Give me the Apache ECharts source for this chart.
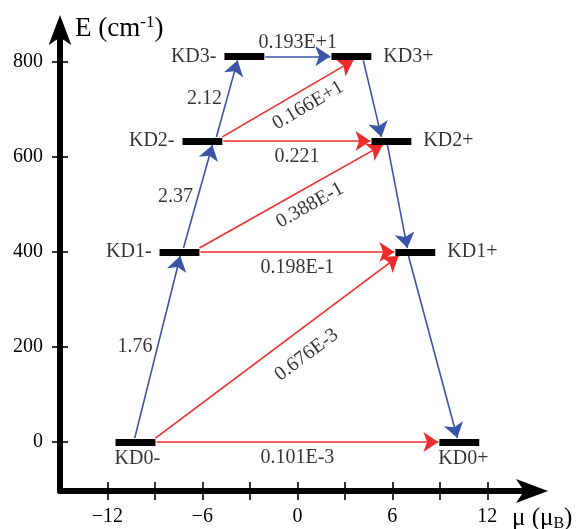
<!DOCTYPE html>
<html><head><meta charset="utf-8">
<script src="https://cdn.jsdelivr.net/npm/echarts@6/dist/echarts.min.js"></script>
<style>html,body{margin:0;padding:0;background:#fff}#c{width:577px;height:529px}</style>
</head><body><div id="c"></div>
<script>
// ---------------- data ----------------
const levelNames = ['KD0-', 'KD1-', 'KD2-', 'KD3-', 'KD3+', 'KD2+', 'KD1+', 'KD0+'];
const levelMu    = [-10.23, -7.45, -6.0, -3.35, 3.41, 5.94, 7.45, 10.23];
const levelE     = [0, 400, 634, 812, 812, 634, 400, 0];

const blueFrom   = ['KD0-', 'KD1-', 'KD2-', 'KD3-', 'KD3+', 'KD2+', 'KD1+'];
const blueTo     = ['KD1-', 'KD2-', 'KD3-', 'KD3+', 'KD2+', 'KD1+', 'KD0+'];
const blueValues = ['1.76', '2.37', '2.12', '0.193E+1', '', '', ''];

const redFrom    = ['KD0-', 'KD0-', 'KD1-', 'KD1-', 'KD2-', 'KD2-'];
const redTo      = ['KD0+', 'KD1+', 'KD1+', 'KD2+', 'KD2+', 'KD3+'];
const redValues  = ['0.101E-3', '0.676E-3', '0.198E-1', '0.388E-1', '0.221', '0.166E+1'];

const xTickValues  = [-12, -9, -6, -3, 0, 3, 6, 9, 12];
const xLabelValues = [-12, -6, 0, 6, 12];
const xLabelTexts  = ['\u221212', '\u22126', '0', '6', '12'];
const yTickValues  = [0, 200, 400, 600, 800];
const yLabelTexts  = ['0', '200', '400', '600', '800'];

// ---------------- layout / style ----------------
const FONT = "'Liberation Serif', serif";
const BLUE = '#3a55a8';
const RED = '#ee2a2a';
const BAR_HALF = 1.26;          // half width of level bar (axis units)
const EDGE_PX = 4;              // half thickness of level bar in px
const ARROW = [8, 15];
const blueFromFrac = [0.48, 0.6, 0.85, 1, 0.8, 0.4, 0.33];
const blueToFrac   = [0.52, 0.75, 0.33, 0, 0.25, 0.3, 0.45];
const redFromFrac  = [1, 1, 1, 1, 1, 1];
const redToFrac    = [0, 0.08, 0, 0.28, 0, 0.55];
const redLabelAlong = [0, 19, 0, 12, 0, 14];
const redLabelPerp  = [16, 24, 16, 17, 16, 16];
const levelLabelSide = ['below', 'left', 'left', 'left', 'right', 'right', 'right', 'below'];

const X_MIN = -15, X_MAX = 14.95, Y_MIN = -103, Y_MAX = 869.6;
const GRID = { left: 60, right: 43, top: 29, bottom: 38 };

const chart = echarts.init(document.getElementById('c'), null, { renderer: 'canvas' });

const tickStyle = { color: '#000', width: 1.6 };
const option = {
  animation: false,
  backgroundColor: '#fff',
  textStyle: { fontFamily: FONT },
  grid: [Object.assign({}, GRID), Object.assign({}, GRID)],
  xAxis: [{
    type: 'value', gridIndex: 0, min: X_MIN, max: X_MAX, position: 'bottom',
    axisLine: { show: true, onZero: false, symbol: ['none', 'arrow'], symbolSize: [18, 32],
      symbolOffset: [0, 14],
      lineStyle: { color: '#000', width: 6 } },
    axisTick: { show: true, length: 9, lineStyle: tickStyle, customValues: xTickValues },
    axisLabel: { show: true, customValues: xLabelValues, margin: 16, color: '#000',
      fontFamily: FONT, fontSize: 20,
      formatter: v => xLabelTexts[xLabelValues.indexOf(v)] },
    splitLine: { show: false }
  }, {
    type: 'value', gridIndex: 1, min: X_MIN, max: X_MAX, position: 'bottom',
    axisLine: { show: false, onZero: false },
    axisTick: { show: true, inside: true, length: 9, lineStyle: tickStyle, customValues: xTickValues },
    axisLabel: { show: false }, splitLine: { show: false }
  }],
  yAxis: [{
    type: 'value', gridIndex: 0, min: Y_MIN, max: Y_MAX, position: 'left',
    axisLine: { show: true, onZero: false, symbol: ['none', 'arrow'], symbolSize: [17, 30],
      symbolOffset: [0, 14],
      lineStyle: { color: '#000', width: 6 } },
    axisTick: { show: true, length: 8, lineStyle: tickStyle, customValues: yTickValues },
    axisLabel: { show: true, customValues: yTickValues, margin: 17, color: '#000',
      fontFamily: FONT, fontSize: 20,
      formatter: v => yLabelTexts[yTickValues.indexOf(v)] },
    splitLine: { show: false }
  }, {
    type: 'value', gridIndex: 1, min: Y_MIN, max: Y_MAX, position: 'left',
    axisLine: { show: false, onZero: false },
    axisTick: { show: true, inside: true, length: 8, lineStyle: tickStyle, customValues: yTickValues },
    axisLabel: { show: false }, splitLine: { show: false }
  }],
  graphic: [{
    type: 'text', x: 75, y: 29,
    style: {
      text: '{a|E (cm}{s|-1}{a|)}', verticalAlign: 'middle', align: 'left',
      rich: {
        a: { fontFamily: FONT, fontSize: 27, fill: '#000', color: '#000', lineHeight: 30 },
        s: { fontFamily: FONT, fontSize: 17, fill: '#000', color: '#000', verticalAlign: 'top', lineHeight: 30, padding: [0, 0, 12, 0] }
      }
    }
  }, {
    type: 'text', x: 512, y: 518,
    style: {
      text: '{a|\u03bc (\u03bc}{s|B}{a|)}', verticalAlign: 'middle', align: 'left',
      rich: {
        a: { fontFamily: FONT, fontSize: 25, fill: '#000', color: '#000', lineHeight: 28 },
        s: { fontFamily: FONT, fontSize: 16, fill: '#000', color: '#000', verticalAlign: 'bottom', lineHeight: 28, padding: [9, 0, 0, 0] }
      }
    }
  }],
  series: [{
    name: 'levels', type: 'lines', coordinateSystem: 'cartesian2d', xAxisIndex: 0, yAxisIndex: 0,
    z: 5, symbol: 'none',
    lineStyle: { color: '#000', width: 7, opacity: 1 },
    data: levelNames.map((n, i) => ({ coords: [[levelMu[i] - BAR_HALF, levelE[i]], [levelMu[i] + BAR_HALF, levelE[i]]] }))
  }]
};
chart.setOption(option);

// ---------- arrows and labels built through the axes' scales ----------
const toPx = p => chart.convertToPixel({ gridIndex: 0 }, p);
const toData = p => chart.convertFromPixel({ gridIndex: 0 }, p);
const idx = n => levelNames.indexOf(n);

function anchor(name, frac, sign) {
  const i = idx(name);
  const x = levelMu[i] - BAR_HALF + 2 * BAR_HALF * frac;
  const p = toPx([x, levelE[i]]);
  return [p[0], p[1] - sign * EDGE_PX];
}

function buildArrow(from, to, ff, tf) {
  const ef = levelE[idx(from)], et = levelE[idx(to)];
  const sFrom = et > ef ? 1 : (et < ef ? -1 : 0);
  const sTo = et > ef ? -1 : (et < ef ? 1 : 0);
  const a = anchor(from, ff, sFrom);
  const b = anchor(to, tf, sTo);
  if (sFrom === 0) { a[0] += 1; b[0] -= 1; }
  const dx = b[0] - a[0], dy = b[1] - a[1];
  const L = Math.hypot(dx, dy);
  const u = [dx / L, dy / L];
  return { start: a, tip: b, end: b, u: u };
}

const labelItems = [];
function addLabel(px, text, extra) {
  labelItems.push({
    value: toData(px),
    label: Object.assign({ show: true, formatter: text, position: 'inside', align: 'center',
      verticalAlign: 'middle', color: '#000', fontFamily: FONT, fontSize: 20 }, extra || {})
  });
}

const blueData = [], redData = [];
blueFrom.forEach((f, i) => {
  const a = buildArrow(f, blueTo[i], blueFromFrac[i], blueToFrac[i]);
  blueData.push({ coords: [toData(a.start), toData(a.end)] });
  if (!blueValues[i]) return;
  const mid = [(a.start[0] + a.tip[0]) / 2, (a.start[1] + a.tip[1]) / 2];
  if (Math.abs(a.u[1]) < 0.01) {
    addLabel([mid[0], mid[1] - 14], blueValues[i]);
  } else {
    addLabel([mid[0] - 5, mid[1]], blueValues[i], { align: 'right' });
  }
});
redFrom.forEach((f, i) => {
  const a = buildArrow(f, redTo[i], redFromFrac[i], redToFrac[i]);
  redData.push({ coords: [toData(a.start), toData(a.end)] });
  const mid = [(a.start[0] + a.tip[0]) / 2, (a.start[1] + a.tip[1]) / 2];
  const n = [-a.u[1], a.u[0]];
  const p = [mid[0] + a.u[0] * redLabelAlong[i] + n[0] * redLabelPerp[i],
             mid[1] + a.u[1] * redLabelAlong[i] + n[1] * redLabelPerp[i]];
  const rot = Math.atan2(-a.u[1], a.u[0]) * 180 / Math.PI;
  addLabel(p, redValues[i], { rotate: rot });
});
levelNames.forEach((n, i) => {
  const pl = toPx([levelMu[i] - BAR_HALF, levelE[i]]);
  const pr = toPx([levelMu[i] + BAR_HALF, levelE[i]]);
  const side = levelLabelSide[i];
  if (side === 'left') addLabel([pl[0] - 8, pl[1]], n, { align: 'right' });
  else if (side === 'right') addLabel([pr[0] + 12, pr[1]], n, { align: 'left' });
  else addLabel([pl[0] - 1, pl[1] + 17], n, { align: 'left' });
});

chart.setOption({
  series: [{ name: 'levels' }, {
    name: 'blue', type: 'lines', coordinateSystem: 'cartesian2d', xAxisIndex: 0, yAxisIndex: 0, z: 4,
    symbol: ['none', 'arrow'], symbolSize: ARROW,
    lineStyle: { color: BLUE, width: 1.6, opacity: 1 }, itemStyle: { color: BLUE },
    data: blueData
  }, {
    name: 'red', type: 'lines', coordinateSystem: 'cartesian2d', xAxisIndex: 0, yAxisIndex: 0, z: 4,
    symbol: ['none', 'arrow'], symbolSize: ARROW,
    lineStyle: { color: RED, width: 1.6, opacity: 1 }, itemStyle: { color: RED },
    data: redData
  }, {
    name: 'labels', type: 'scatter', xAxisIndex: 0, yAxisIndex: 0, z: 6,
    symbolSize: 1, itemStyle: { color: 'rgba(0,0,0,0)' }, silent: true,
    data: labelItems
  }]
});
</script>
</body></html>
